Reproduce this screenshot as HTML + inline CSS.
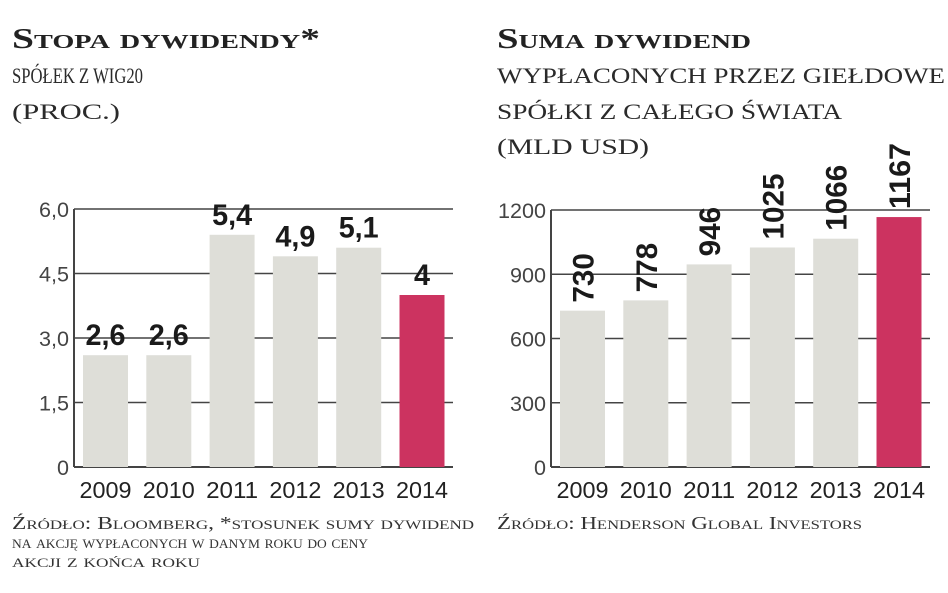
<!DOCTYPE html>
<html><head><meta charset="utf-8"><style>
html,body{margin:0;padding:0;background:#fff;}
svg{display:block;}
.ttl{font-family:"Liberation Serif",serif;font-weight:bold;font-variant:small-caps;fill:#222;}
.sub{font-family:"Liberation Serif",serif;text-transform:uppercase;fill:#2a2a2a;}
.src{font-family:"Liberation Serif",serif;font-variant:small-caps;fill:#333;}
.tick{font-family:"Liberation Sans",sans-serif;font-size:21px;fill:#444;}
.year{font-family:"Liberation Sans",sans-serif;font-size:23px;fill:#222;}
.val{font-family:"Liberation Sans",sans-serif;font-size:30px;font-weight:bold;fill:#1a1a1a;}
</style></head><body>
<svg id="c" width="948" height="593" viewBox="0 0 948 593" xmlns="http://www.w3.org/2000/svg">
<text class="ttl" x="12" y="48" font-size="28" textLength="308" lengthAdjust="spacingAndGlyphs">Stopa dywidendy*</text>
<text class="sub" x="12" y="83" font-size="22" textLength="131" lengthAdjust="spacingAndGlyphs">spółek z WIG20</text>
<text class="sub" x="12" y="119" font-size="22" textLength="108" lengthAdjust="spacingAndGlyphs">(proc.)</text>
<text class="ttl" x="497" y="48" font-size="28" textLength="254" lengthAdjust="spacingAndGlyphs">Suma dywidend</text>
<text class="sub" x="497" y="83" font-size="22" textLength="448" lengthAdjust="spacingAndGlyphs">wypłaconych przez giełdowe</text>
<text class="sub" x="497" y="119" font-size="22" textLength="345" lengthAdjust="spacingAndGlyphs">spółki z całego świata</text>
<text class="sub" x="497" y="154" font-size="22" textLength="152" lengthAdjust="spacingAndGlyphs">(mld USD)</text>
<text class="src" x="12" y="529" font-size="18" textLength="462" lengthAdjust="spacingAndGlyphs">Źródło: Bloomberg, *stosunek sumy dywidend</text>
<text class="src" x="12" y="548" font-size="18" textLength="356" lengthAdjust="spacingAndGlyphs">na akcję wypłaconych w danym roku do ceny</text>
<text class="src" x="12" y="567" font-size="18" textLength="188" lengthAdjust="spacingAndGlyphs">akcji z końca roku</text>
<text class="src" x="497" y="529" font-size="18" textLength="365" lengthAdjust="spacingAndGlyphs">Źródło: Henderson Global Investors</text>
<g id="left"></g>
<g id="right"></g>
</svg>
<script>
const years = ["2009","2010","2011","2012","2013","2014"];
const yieldValues = [2.6, 2.6, 5.4, 4.9, 5.1, 4.0];
const yieldLabels = ["2,6","2,6","5,4","4,9","5,1","4"];
const yieldTicks = [0, 1.5, 3.0, 4.5, 6.0];
const yieldTickLabels = ["0","1,5","3,0","4,5","6,0"];
const sumValues = [730, 778, 946, 1025, 1066, 1167];
const sumLabels = ["730","778","946","1025","1066","1167"];
const sumTicks = [0, 300, 600, 900, 1200];
const sumTickLabels = ["0","300","600","900","1200"];

const NS = "http://www.w3.org/2000/svg";
function mk(tag, attrs, parent, text){
  const e = document.createElementNS(NS, tag);
  for (const k in attrs) e.setAttribute(k, attrs[k]);
  if (text !== undefined) e.textContent = text;
  parent.appendChild(e); return e;
}
function narrowLen(s, digit, comma){
  let w = 0;
  for (const ch of s) w += (ch === "," ? comma : digit);
  return w;
}
function drawChart(g, cfg){
  const y = v => cfg.y0 - v / cfg.max * (cfg.y0 - cfg.yTop);
  const x = i => cfg.x0 + cfg.pad + i * cfg.step;
  cfg.ticks.forEach((t, i) => {
    const l = mk("line", {x1: cfg.x0, x2: cfg.x1, y1: y(t), y2: y(t), stroke: "#444", "stroke-width": i === 0 ? 2 : 1.5}, g);
    
    
    const lab = cfg.tickLabels[i];
    const tl = mk("text", {x: cfg.x0 - 5, y: y(t) + 8, "text-anchor": "end", class: "tick",
      textLength: narrowLen(lab, 12, 6), lengthAdjust: "spacingAndGlyphs"}, g, lab);
    
    
  });
  const ax = mk("line", {x1: cfg.x0, x2: cfg.x0, y1: y(cfg.max), y2: cfg.y0, stroke: "#444", "stroke-width": 2}, g);
  
  
  cfg.values.forEach((v, i) => {
    const last = i === cfg.values.length - 1;
    const r = mk("rect", {x: x(i), y: y(v), width: cfg.bw, height: cfg.y0 - y(v), fill: last ? "#cc3360" : "#deded8"}, g);
    
    
    const cx = x(i) + cfg.bw / 2;
    const lab = cfg.labels[i];
    let t;
    if (cfg.rotate) {
      t = mk("text", {x: 0, y: 0, class: "val", textLength: narrowLen(lab, 16.5, 7), lengthAdjust: "spacingAndGlyphs",
        transform: `translate(${cx + 11},${y(v) - 8}) rotate(-90)`}, g, lab);
    } else {
      t = mk("text", {x: cx, y: y(v) - 10, "text-anchor": "middle", class: "val",
        textLength: narrowLen(lab, 16, 8), lengthAdjust: "spacingAndGlyphs"}, g, lab);
    }
    
    
    const yl = mk("text", {x: cx, y: cfg.y0 + 31, "text-anchor": "middle", class: "year",
      textLength: 52, lengthAdjust: "spacingAndGlyphs"}, g, years[i]);
    
    
  });
}
drawChart(document.getElementById("left"), {x0: 74, x1: 453, y0: 467, yTop: 209, max: 6, pad: 9, step: 63.3, bw: 45,
  values: yieldValues, labels: yieldLabels, ticks: yieldTicks, tickLabels: yieldTickLabels, rotate: false});
drawChart(document.getElementById("right"), {x0: 551, x1: 930, y0: 467, yTop: 210, max: 1200, pad: 9, step: 63.3, bw: 45,
  values: sumValues, labels: sumLabels, ticks: sumTicks, tickLabels: sumTickLabels, rotate: true});
</script>
</body></html>
